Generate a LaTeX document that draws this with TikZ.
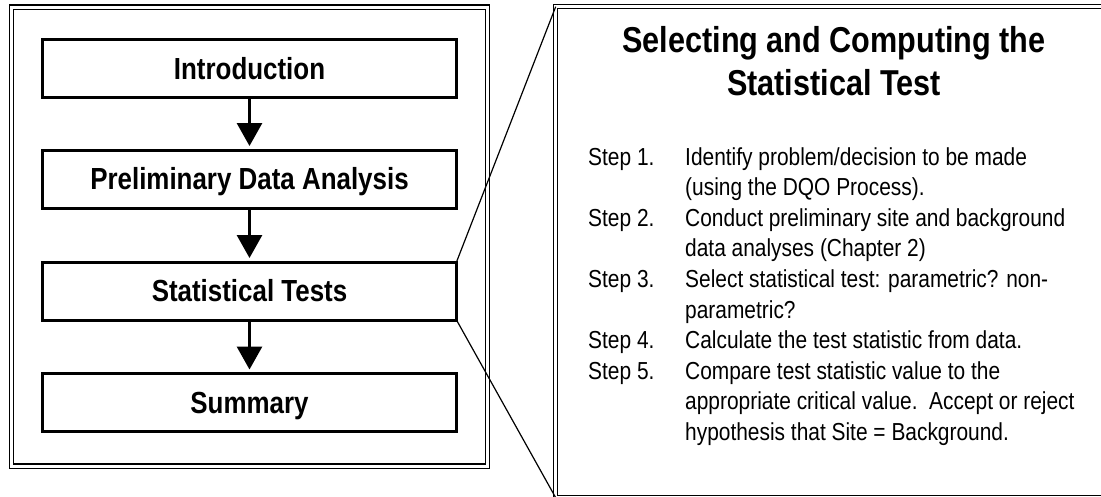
\documentclass[tikz,border=0pt]{standalone}
\usepackage{fontspec}
\setmainfont{Liberation Sans}[FakeStretch=0.85]
\usetikzlibrary{arrows.meta}
\begin{document}
\begin{tikzpicture}[x=1pt,y=-1pt,
  flowbox/.style={draw, line width=3pt, minimum width=414pt, minimum height=58pt,
    inner sep=0pt, outer sep=0pt, font=\fontsize{30.5}{36}\selectfont\bfseries,
    text height=21.8pt, text depth=0pt},
  frame/.style={draw, double, double distance=3pt, line width=1.2pt},
  flowarrow/.style={line width=3pt, -{Triangle[width=25pt,length=23pt]}, shorten >=4pt},
  zoomline/.style={line width=1.2pt},
  titletext/.style={font=\fontsize{36}{43}\selectfont\bfseries, inner sep=0pt, anchor=base},
  steptext/.style={font=\fontsize{24.6}{30.6}\selectfont, inner sep=0pt, anchor=base west}]
\useasboundingbox (0,0) rectangle (1101,496);
\clip (0,0) rectangle (1101,496);

% left frame
\draw[frame] (11.7,7) rectangle (487.3,466);

% flow boxes
\node[flowbox] (intro)  at (249.5,68.5)  {Introduction};
\node[flowbox] (prelim) at (249.5,179)   {Preliminary Data Analysis};
\node[flowbox] (stat)   at (249.5,291)   {Statistical Tests};
\node[flowbox] (summ)   at (249.5,402.5) {Summary};

\draw[flowarrow] (intro.south) -- (prelim.north);
\draw[flowarrow] (prelim.south) -- (stat.north);
\draw[flowarrow] (stat.south) -- (summ.north);

% right panel
\node[frame, minimum width=560pt, minimum height=491pt, inner sep=0pt, outer sep=0pt,
      anchor=north west] (panel) at (555.7,6.7) {};

\draw[zoomline] (stat.north east) -- (panel.north west);
\draw[zoomline] (stat.south east) -- (panel.south west);

% title
\node[titletext] (t1) at (834,52) {Selecting and Computing the};
\node[titletext] (t2) at (834,95) {Statistical Test};

% steps
\node[steptext] (s1)  at (588,165)   {Step 1.};
\node[steptext] (s1a) at (685,165)   {Identify problem/decision to be made};
\node[steptext] (s1b) at (685,195.6) {(using the DQO Process).};
\node[steptext] (s2)  at (588,226.2) {Step 2.};
\node[steptext] (s2a) at (685,226.2) {Conduct preliminary site and background};
\node[steptext] (s2b) at (685,256.8) {data analyses (Chapter 2)};
\node[steptext] (s3)  at (588,287.4) {Step 3.};
\node[steptext] (s3a) at (685,287.4) {Select statistical test: parametric? non-};
\node[steptext] (s3b) at (685,318)   {parametric?};
\node[steptext] (s4)  at (588,348.6) {Step 4.};
\node[steptext] (s4a) at (685,348.6) {Calculate the test statistic from data.};
\node[steptext] (s5)  at (588,379.2) {Step 5.};
\node[steptext] (s5a) at (685,379.2) {Compare test statistic value to the};
\node[steptext] (s5b) at (685,409.8) {appropriate critical value.\ \ Accept or reject};
\node[steptext] (s5c) at (685,440.4) {hypothesis that Site = Background.};
\end{tikzpicture}
\end{document}
